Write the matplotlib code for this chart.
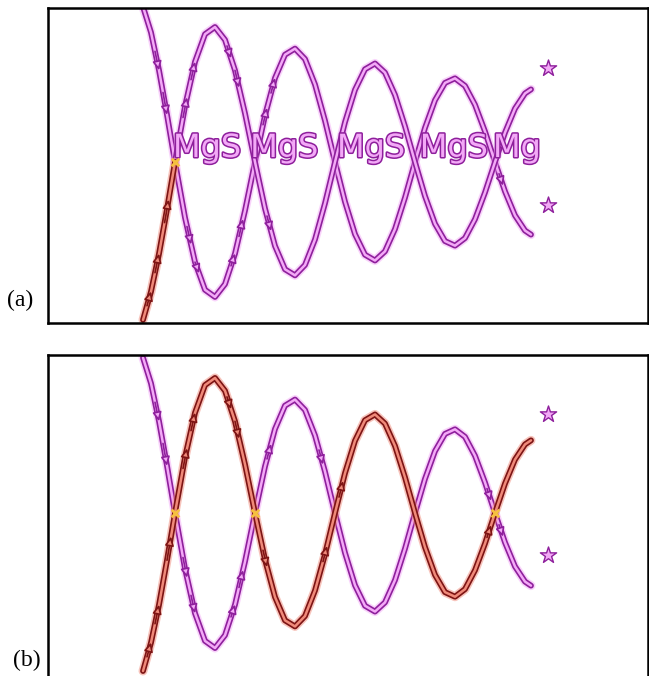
import numpy as np
import matplotlib.pyplot as plt
import matplotlib.patheffects as pe

# positions along the chain (1 unit = one crossing spacing) and the two strands
xs = [0.6, 0.7, 0.8, 0.9, 1.0, 1.125, 1.25, 1.375, 1.5, 1.625, 1.75, 1.875,
      2.0, 2.125, 2.25, 2.375, 2.5, 2.625, 2.75, 2.875, 3.0, 3.125, 3.25, 3.375,
      3.5, 3.625, 3.75, 3.875, 4.0, 4.125, 4.25, 4.375, 4.5, 4.625, 4.75, 4.875,
      5.0, 5.125, 5.25, 5.375, 5.45]
strand1 = [1.15, 0.96, 0.68, 0.35, 0.0, -0.412, -0.742, -0.947, -1.0, -0.905, -0.679, -0.360,
           0.0, 0.345, 0.622, 0.795, 0.84, 0.763, 0.574, 0.306, 0.0, -0.295, -0.535, -0.687,
           -0.73, -0.662, -0.497, -0.264, 0.0, 0.253, 0.458, 0.586, 0.62, 0.564, 0.424, 0.226,
           0.0, -0.218, -0.396, -0.508, -0.538]
strand2 = [-1.17, -0.96, -0.68, -0.35, 0.0, 0.412, 0.742, 0.947, 1.0, 0.905, 0.679, 0.360,
           0.0, -0.345, -0.622, -0.795, -0.84, -0.763, -0.574, -0.306, 0.0, 0.295, 0.535, 0.687,
           0.73, 0.662, 0.497, 0.264, 0.0, -0.253, -0.458, -0.586, -0.62, -0.564, -0.424, -0.226,
           0.0, 0.218, 0.396, 0.508, 0.538]

red_end_a = 1.0   # strand2 is red up to this x in panel (a)

labels = ["MgS", "MgS", "MgS", "MgS", "Mg"]
label_x = [0.975, 1.94, 3.025, 4.06, 4.975]

star_x = [5.66, 5.66]
star_y_a = [0.70, -0.32]
star_y_b = [0.73, -0.31]

arrows_a1 = [0.8, 0.9, 1.2, 1.3, 1.75, 1.85, 2.15, 2.25, 5.1]
arrows_a2 = [0.7, 0.8, 0.92, 1.15, 1.25, 1.7, 1.8, 2.2, 5.1]
arrows_b1 = [0.8, 0.9, 1.15, 1.25, 1.75, 1.85, 2.2, 2.85, 4.95, 5.1]
arrows_b2 = [0.7, 0.8, 0.95, 1.15, 1.25, 1.7, 1.8, 2.15, 2.9, 3.1, 4.95]

MAG_DARK, MAG_LIGHT = "#8e1f9c", "#f3a9f7"
RED_DARK, RED_LIGHT = "#7d1414", "#f08a7a"

xs = np.array(xs)
strand1 = np.array(strand1)
strand2 = np.array(strand2)


def tube(ax, x, y, dark, light):
    ax.plot(x, y, color=light, lw=6.5, alpha=0.5, solid_capstyle="round")
    ax.plot(x, y, color=dark, lw=4.2, solid_capstyle="round")
    ax.plot(x, y, color=light, lw=1.8, solid_capstyle="round")


def arrows(ax, y, where, dark, light, red_until=None):
    for xa in where:
        d, l = dark, light
        if red_until is not None and xa < red_until:
            d, l = RED_DARK, RED_LIGHT
        x0 = xa - 0.05
        ax.annotate("", xy=(xa, np.interp(xa, xs, y)), xytext=(x0, np.interp(x0, xs, y)),
                    arrowprops=dict(arrowstyle="-|>", color=d, fc=l, lw=1.2,
                                    mutation_scale=13, shrinkA=0, shrinkB=0))


fig = plt.figure(figsize=(6.49, 6.76), dpi=100)

# panel (a)
ax1 = fig.add_axes([48 / 649, 1 - 323 / 676, 600 / 649, 315 / 676])
tube(ax1, xs, strand1, MAG_DARK, MAG_LIGHT)
m = xs <= red_end_a
tube(ax1, xs[xs >= red_end_a], strand2[xs >= red_end_a], MAG_DARK, MAG_LIGHT)
tube(ax1, xs[m], strand2[m], RED_DARK, RED_LIGHT)
arrows(ax1, strand1, arrows_a1, MAG_DARK, MAG_LIGHT)
arrows(ax1, strand2, arrows_a2, MAG_DARK, MAG_LIGHT, red_until=red_end_a)
for t, tx in zip(labels, label_x):
    ax1.text(tx, 0.037, t, fontsize=23, color=MAG_LIGHT, ha="left", va="baseline",
             path_effects=[pe.withStroke(linewidth=2.2, foreground=MAG_DARK)])
ax1.scatter(star_x, star_y_a, marker="*", s=150, c=MAG_LIGHT, edgecolors=MAG_DARK, linewidths=1)
ax1.scatter([1.0], [0.0], marker="x", s=30, c="#f5c040", linewidths=2, zorder=5)
ax1.set_xlim(-0.5875, 6.9125)
ax1.set_ylim(-1.193, 1.141)

# panel (b)
ax2 = fig.add_axes([48 / 649, -0.01, 600 / 649, 1 - 355 / 676 + 0.01])
tube(ax2, xs, strand1, MAG_DARK, MAG_LIGHT)
tube(ax2, xs, strand2, RED_DARK, RED_LIGHT)
arrows(ax2, strand1, arrows_b1, MAG_DARK, MAG_LIGHT)
arrows(ax2, strand2, arrows_b2, RED_DARK, RED_LIGHT)
ax2.scatter([1.0, 2.0, 5.0], [0.0, 0.0, 0.0], marker="x", s=30, c="#f5c040", linewidths=2, zorder=5)
ax2.scatter(star_x, star_y_b, marker="*", s=150, c=MAG_LIGHT, edgecolors=MAG_DARK, linewidths=1)
ax2.set_xlim(-0.5875, 6.9125)
ax2.set_ylim(-1.207 - 0.01 * 676 / 135, 1.170)
ax2.spines["bottom"].set_visible(False)

for ax in (ax1, ax2):
    ax.set_xticks([])
    ax.set_yticks([])
    for s in ax.spines.values():
        s.set_linewidth(1.8)

fig.text(20 / 649, 1 - 300 / 676, "(a)", fontsize=17, family="Liberation Serif", ha="center", va="center")
fig.text(27 / 649, 1 - 660 / 676, "(b)", fontsize=17, family="Liberation Serif", ha="center", va="center")

fig.savefig("out.png", dpi=100)
